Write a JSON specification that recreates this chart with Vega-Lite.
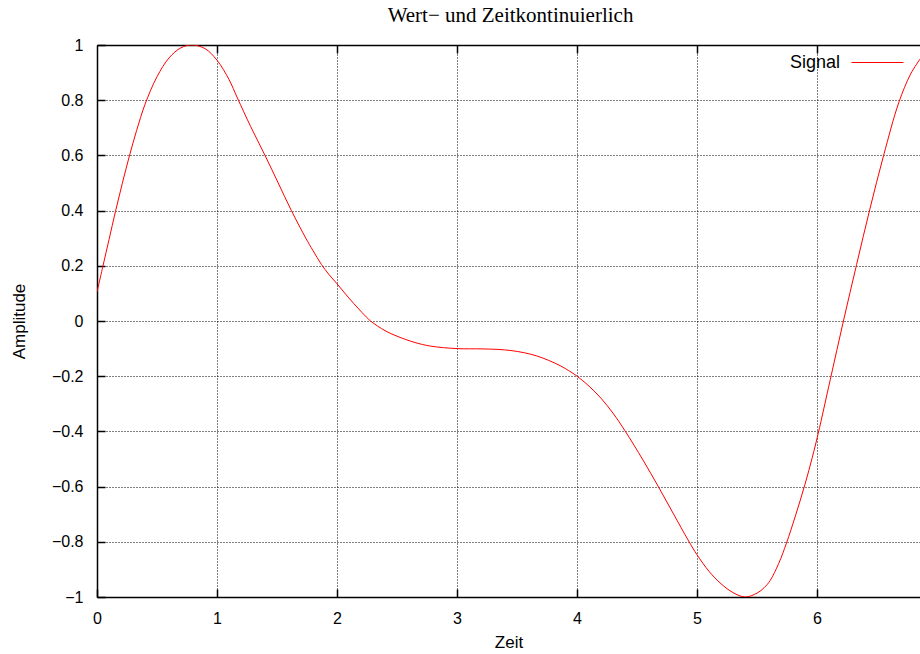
{
  "$schema": "https://vega.github.io/schema/vega-lite/v6.json",
  "autosize": {"type": "none"},
  "padding": {"left": 97, "top": 45, "right": 0, "bottom": 57},
  "width": 823,
  "height": 552,
  "background": "white",
  "title": {
    "text": "Wert− und Zeitkontinuierlich",
    "font": "Liberation Serif",
    "fontSize": 21,
    "fontWeight": "normal",
    "color": "#000",
    "anchor": "middle",
    "frame": "group",
    "baseline": "alphabetic",
    "offset": 21,
    "dx": 2,
    "dy": 28
  },
  "config": {
    "font": "Liberation Sans",
    "view": {"stroke": null},
    "axis": {
      "labelFont": "Liberation Sans",
      "labelFontSize": 16,
      "labelColor": "#000",
      "titleFont": "Liberation Sans",
      "titleFontSize": 17,
      "titleFontWeight": "normal",
      "titleColor": "#000",
      "domainColor": "#000",
      "domainWidth": 1.5,
      "tickColor": "#000",
      "tickWidth": 1.5,
      "gridColor": "#000",
      "gridDash": [1, 2],
      "gridOpacity": 1,
      "gridWidth": 1
    }
  },
  "data": {
    "values": [
      {"t": 0, "a": 0.105, "s": "Signal"},
      {"t": 0.05, "a": 0.2, "s": "Signal"},
      {"t": 0.1, "a": 0.295, "s": "Signal"},
      {"t": 0.154, "a": 0.397, "s": "Signal"},
      {"t": 0.21, "a": 0.497, "s": "Signal"},
      {"t": 0.27, "a": 0.598, "s": "Signal"},
      {"t": 0.33, "a": 0.69, "s": "Signal"},
      {"t": 0.4, "a": 0.785, "s": "Signal"},
      {"t": 0.5, "a": 0.885, "s": "Signal"},
      {"t": 0.6, "a": 0.953, "s": "Signal"},
      {"t": 0.7, "a": 0.99, "s": "Signal"},
      {"t": 0.79, "a": 1.0, "s": "Signal"},
      {"t": 0.9, "a": 0.987, "s": "Signal"},
      {"t": 1.0, "a": 0.945, "s": "Signal"},
      {"t": 1.1, "a": 0.875, "s": "Signal"},
      {"t": 1.17, "a": 0.808, "s": "Signal"},
      {"t": 1.28, "a": 0.705, "s": "Signal"},
      {"t": 1.4, "a": 0.6, "s": "Signal"},
      {"t": 1.51, "a": 0.5, "s": "Signal"},
      {"t": 1.62, "a": 0.4, "s": "Signal"},
      {"t": 1.74, "a": 0.3, "s": "Signal"},
      {"t": 1.8, "a": 0.255, "s": "Signal"},
      {"t": 1.87, "a": 0.205, "s": "Signal"},
      {"t": 1.93, "a": 0.17, "s": "Signal"},
      {"t": 2.0, "a": 0.135, "s": "Signal"},
      {"t": 2.07, "a": 0.098, "s": "Signal"},
      {"t": 2.14, "a": 0.063, "s": "Signal"},
      {"t": 2.21, "a": 0.03, "s": "Signal"},
      {"t": 2.28, "a": 0.0, "s": "Signal"},
      {"t": 2.4, "a": -0.035, "s": "Signal"},
      {"t": 2.5, "a": -0.055, "s": "Signal"},
      {"t": 2.65, "a": -0.078, "s": "Signal"},
      {"t": 2.78, "a": -0.091, "s": "Signal"},
      {"t": 3.0, "a": -0.1, "s": "Signal"},
      {"t": 3.2, "a": -0.101, "s": "Signal"},
      {"t": 3.34, "a": -0.103, "s": "Signal"},
      {"t": 3.45, "a": -0.107, "s": "Signal"},
      {"t": 3.56, "a": -0.115, "s": "Signal"},
      {"t": 3.66, "a": -0.126, "s": "Signal"},
      {"t": 3.76, "a": -0.142, "s": "Signal"},
      {"t": 3.86, "a": -0.162, "s": "Signal"},
      {"t": 3.95, "a": -0.185, "s": "Signal"},
      {"t": 4.0, "a": -0.2, "s": "Signal"},
      {"t": 4.1, "a": -0.236, "s": "Signal"},
      {"t": 4.2, "a": -0.28, "s": "Signal"},
      {"t": 4.3, "a": -0.334, "s": "Signal"},
      {"t": 4.4, "a": -0.398, "s": "Signal"},
      {"t": 4.55, "a": -0.504, "s": "Signal"},
      {"t": 4.68, "a": -0.602, "s": "Signal"},
      {"t": 4.8, "a": -0.696, "s": "Signal"},
      {"t": 4.93, "a": -0.797, "s": "Signal"},
      {"t": 5.0, "a": -0.847, "s": "Signal"},
      {"t": 5.1, "a": -0.907, "s": "Signal"},
      {"t": 5.2, "a": -0.952, "s": "Signal"},
      {"t": 5.3, "a": -0.984, "s": "Signal"},
      {"t": 5.4, "a": -1.0, "s": "Signal"},
      {"t": 5.5, "a": -0.986, "s": "Signal"},
      {"t": 5.56, "a": -0.966, "s": "Signal"},
      {"t": 5.61, "a": -0.94, "s": "Signal"},
      {"t": 5.68, "a": -0.879, "s": "Signal"},
      {"t": 5.745, "a": -0.805, "s": "Signal"},
      {"t": 5.82, "a": -0.706, "s": "Signal"},
      {"t": 5.9, "a": -0.591, "s": "Signal"},
      {"t": 5.96, "a": -0.495, "s": "Signal"},
      {"t": 6.01, "a": -0.407, "s": "Signal"},
      {"t": 6.11, "a": -0.213, "s": "Signal"},
      {"t": 6.22, "a": 0.0, "s": "Signal"},
      {"t": 6.33, "a": 0.205, "s": "Signal"},
      {"t": 6.44, "a": 0.405, "s": "Signal"},
      {"t": 6.555, "a": 0.6, "s": "Signal"},
      {"t": 6.68, "a": 0.79, "s": "Signal"},
      {"t": 6.78, "a": 0.895, "s": "Signal"},
      {"t": 6.86, "a": 0.95, "s": "Signal"}
    ]
  },
  "layer": [
    {
      "mark": {"type": "line", "interpolate": "catmull-rom", "strokeWidth": 1, "clip": true},
      "encoding": {
        "x": {
          "field": "t", "type": "quantitative",
          "scale": {"domain": [0, 6.858], "nice": false, "zero": false},
          "axis": {
            "orient": "bottom", "values": [0, 1, 2, 3, 4, 5, 6], "format": "d",
            "title": "Zeit", "grid": true, "tickSize": -8, "labelPadding": 21,
            "titlePadding": 8, "labelFlush": false
          }
        },
        "y": {
          "field": "a", "type": "quantitative",
          "scale": {"domain": [-1, 1], "nice": false, "zero": false},
          "axis": {
            "orient": "left", "values": [-1, -0.8, -0.6, -0.4, -0.2, 0, 0.2, 0.4, 0.6, 0.8, 1],
            "format": "~g",
            "title": "Amplitude", "grid": true, "tickSize": -8, "labelPadding": 22,
            "titlePadding": 23, "labelFlush": false
          }
        },
        "color": {
          "field": "s", "type": "nominal",
          "scale": {"domain": ["Signal"], "range": ["#ff0000"]},
          "legend": {
            "title": null,
            "orient": "none",
            "legendX": 754,
            "legendY": -9,
            "padding": 0,
            "symbolType": "stroke",
            "symbolSize": 2704,
            "symbolStrokeWidth": 1,
            "labelAlign": "right",
            "labelOffset": -64,
            "labelFont": "Liberation Sans",
            "labelFontSize": 18,
            "labelColor": "#000"
          }
        }
      }
    },
    {
      "mark": {"type": "rule", "opacity": 0},
      "encoding": {
        "x": {
          "field": "t", "type": "quantitative",
          "axis": {
            "orient": "top", "values": [1, 2, 3, 4, 5, 6], "labels": false,
            "grid": false, "tickSize": -8, "title": null
          }
        }
      }
    }
  ],
  "resolve": {"axis": {"x": "independent"}}
}
